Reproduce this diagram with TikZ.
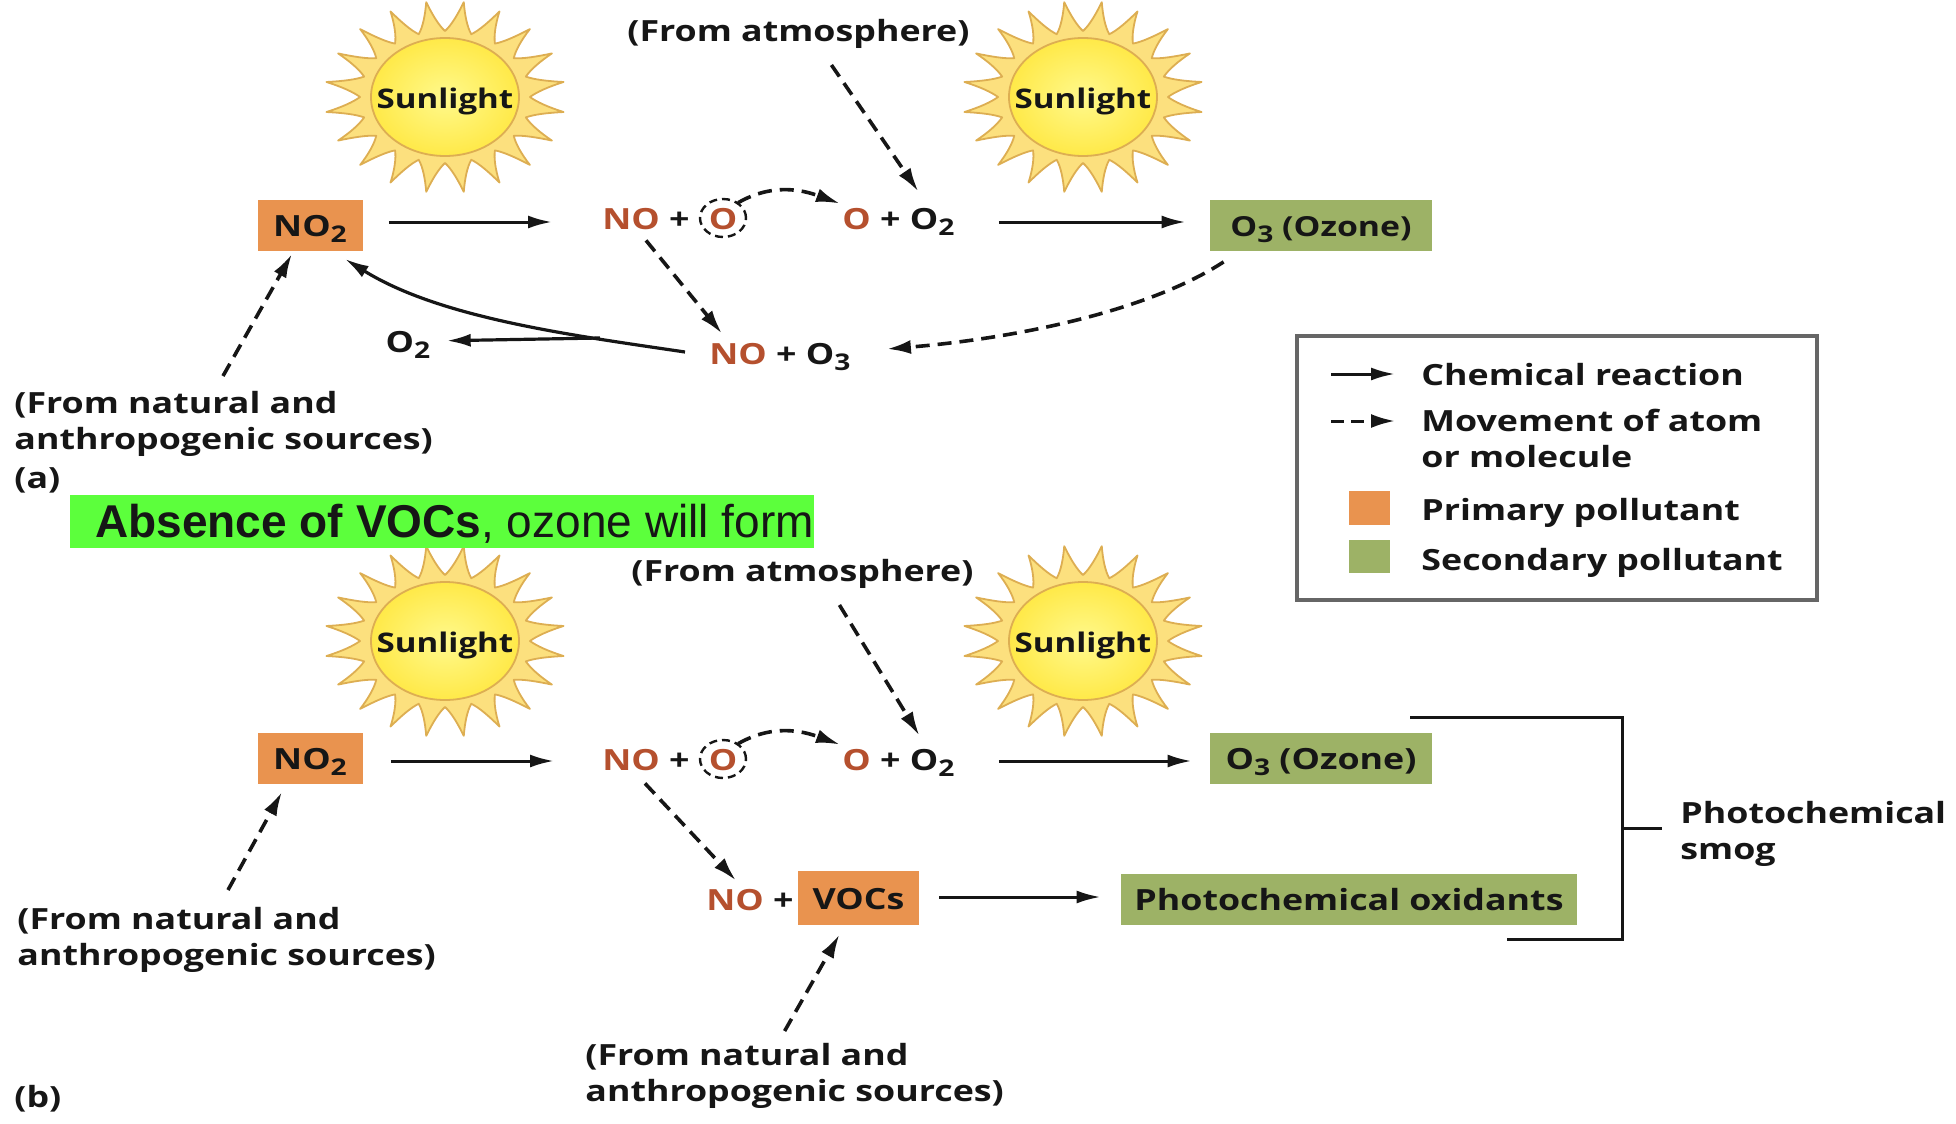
\documentclass[tikz,border=0pt]{standalone}
\usepackage{fontspec}
\setmainfont{Open Sans}[FakeStretch=1.225]
\newfontfamily\bannerfont{Liberation Sans}
\usetikzlibrary{shapes.geometric,arrows.meta,calc}
\definecolor{Ink}{HTML}{161616}
\definecolor{Rust}{HTML}{B5502E}
\definecolor{Primary}{HTML}{E9934F}
\definecolor{Secondary}{HTML}{9DB266}
\definecolor{Banner}{HTML}{5CFF3C}
\definecolor{RayFill}{HTML}{FCE07E}
\definecolor{RayEdge}{HTML}{DDAE52}
\definecolor{DiscIn}{HTML}{FFF98C}
\definecolor{DiscOut}{HTML}{FFE948}
\tikzset{
  label/.style={font=\bfseries\fontsize{14.6}{18}\selectfont,text=Ink,inner sep=0pt,text height=11pt,text depth=0pt},
  note/.style={font=\bfseries\fontsize{14.6}{18}\selectfont,text=Ink,inner sep=0pt,align=left,anchor=west},
  primary/.style={label,fill=Primary,minimum height=25.5pt},
  secondary/.style={label,fill=Secondary,minimum height=25.5pt},
  chem/.style={-{Latex[length=12pt,width=6.5pt]},line width=1.5pt,draw=Ink},
  move/.style={-{Latex[length=12pt,width=7pt]},line width=1.8pt,draw=Ink,dash pattern=on 7pt off 4pt},
}
\newcommand{\NOx}{\textcolor{Rust}{NO}}
\newcommand{\Ox}{\textcolor{Rust}{O}}
\newcommand{\subnum}[1]{\raisebox{-3.2pt}{\fontsize{11.5}{12}\selectfont #1}}
\begin{document}
\begin{tikzpicture}[x=0.5pt,y=-0.5pt]
  \useasboundingbox (0,0) rectangle (1956,1124);
  % suns
  \foreach \sunname/\sx/\sy in {sunA/445/97,sunB/1083/97,sunC/445/641,sunD/1083/641} {
    \begin{scope}[shift={(\sx,\sy)}]
      \draw[fill=RayFill,draw=RayEdge,line width=0.9pt,line join=round] (85,0)
        \foreach \k [evaluate=\k as \t using 18*\k+9, evaluate=\k as \v using 18*\k+18] in {0,...,19} {
          .. controls ({92*cos(\t-5)},{72*sin(\t-5)}) and ({104*cos(\t-2)},{83*sin(\t-2)}) .. ({120*cos(\t)},{96*sin(\t)})
          .. controls ({104*cos(\t+2)},{83*sin(\t+2)}) and ({92*cos(\t+5)},{72*sin(\t+5)}) .. ({85*cos(\v)},{66*sin(\v)})
        } -- cycle;
      \draw[draw=RayEdge,line width=0.9pt,inner color=DiscIn,outer color=DiscOut] (0,0) ellipse (74 and 59);
    \end{scope}
    \node[label,font=\bfseries\fontsize{13.5}{16}\selectfont] (\sunname) at (\sx,\sy) {Sunlight};
  }
  % part (a)
  \node[note] (atmA) at (627,34) {(From atmosphere)};
  \node[primary,minimum width=52.5pt] (no2A) at (310,225) {NO\subnum{2}};
  \node[label,anchor=west] (noA) at (602,218) {\NOx{} +};
  \node[label,ellipse,draw=Ink,line width=1.2pt,dash pattern=on 4pt off 2.5pt,minimum width=23pt,minimum height=19pt,text=Rust] (atomA) at (723,218) {O};
  \node[label,anchor=west] (oA) at (842,218) {\Ox{} + O\subnum{2}};
  \node[secondary,minimum width=111pt,font=\bfseries\fontsize{13.8}{18}\selectfont] (o3A) at (1321,225) {O\subnum{3} (Ozone)};
  \node[label,anchor=west] (noO3) at (709,353) {\NOx{} + O\subnum{3}};
  \node[label] (o2A) at (408,341) {O\subnum{2}};
  \node[note] (srcA) at (14,424) {(From natural and\\anthropogenic sources)};
  \node[note] (tagA) at (14,480) {(a)};
  \coordinate (forkA) at (600,338);
  \draw[chem,shorten <=13pt,shorten >=25pt] ($(no2A.east)+(0,-3)$) -- ($(noA.west)+(0,4)$);
  \draw[chem,shorten >=12pt] ($(oA.east)+(44,4)$) -- ($(o3A.west)+(0,-3)$);
  \draw[move] ($(atomA.north east)+(-2,-1)$) to[out=30,in=160] ($(oA.north west)+(-2,-3)$);
  \draw[move] ($(atmA.south)+(33,16)$) -- ($(oA.north)+(20,-15)$);
  \draw[move] ($(noA.south west)+(44,11)$) -- ($(noO3.north west)+(13,-8)$);
  \draw[move] ($(o3A.south west)+(14,11)$) .. controls (1150,310) and (1020,338) .. ($(noO3.east)+(36,-4)$);
  \draw[chem,line width=1.6pt] ($(noO3.west)+(-24,-1)$) .. controls (570,335) and (440,318) .. ($(no2A.south east)+(-18,8)$);
  \draw[chem,line width=1.6pt,shorten >=8pt] (forkA) -- (o2A.east);
  \draw[move] ($(srcA.north west)+(209,-15)$) -- ($(no2A.south)+(-18,3)$);
  % banner
  \node[anchor=west,fill=Banner,inner sep=0pt,minimum width=371.5pt,minimum height=26.5pt,text height=17pt,text depth=1pt,font=\bannerfont\fontsize{23}{26}\selectfont,text=Ink] (banner) at (70,521.5) {\hspace*{12.5pt}\textbf{Absence of VOCs}, ozone will form};
  % legend
  \node[draw=black!60,line width=1.8pt,minimum width=260pt,minimum height=132pt] (legend) at (1557,468) {};
  \node[note] (legChem) at (1421,375) {Chemical reaction};
  \node[note] (legMove) at (1421,438) {Movement of atom\\or molecule};
  \node[note] (legPrim) at (1421,513) {Primary pollutant};
  \node[note] (legSec) at (1421,563) {Secondary pollutant};
  \node[fill=Primary,minimum width=20.5pt,minimum height=17pt,inner sep=0pt] (swPrim) at (1369,508) {};
  \node[fill=Secondary,minimum width=20.5pt,minimum height=16.5pt,inner sep=0pt] (swSec) at (1369,556) {};
  \coordinate (legA) at (1331,374);
  \coordinate (legB) at (1331,421);
  \draw[chem,shorten >=13pt] (legA) -- (legA -| legChem.west);
  \draw[move,line width=1.5pt,dash pattern=on 6.5pt off 3.5pt,shorten >=13pt] (legB) -- (legB -| legMove.west);
  % part (b)
  \node[note] (atmB) at (631,574) {(From atmosphere)};
  \node[primary,minimum width=52.5pt] (no2B) at (310,758) {NO\subnum{2}};
  \node[label,anchor=west] (noB) at (602,759) {\NOx{} +};
  \node[label,ellipse,draw=Ink,line width=1.2pt,dash pattern=on 4pt off 2.5pt,minimum width=23pt,minimum height=19pt,text=Rust] (atomB) at (723,759) {O};
  \node[label,anchor=west] (oB) at (842,759) {\Ox{} + O\subnum{2}};
  \node[secondary,minimum width=111pt] (o3B) at (1321,758) {O\subnum{3} (Ozone)};
  \node[label,anchor=west] (noVoc) at (706,899) {\NOx{} +};
  \node[primary,minimum width=60.5pt,minimum height=27pt] (voc) at (858.5,898) {VOCs};
  \node[secondary,minimum width=228pt] (oxid) at (1349,899) {Photochemical oxidants};
  \node[note] (srcB) at (17,940) {(From natural and\\anthropogenic sources)};
  \node[note] (srcC) at (585,1076) {(From natural and\\anthropogenic sources)};
  \node[note] (tagB) at (14,1099) {(b)};
  \node[note] (smog) at (1680,834) {Photochemical\\smog};
  \draw[chem,shorten <=14pt,shorten >=24pt] ($(no2B.east)+(0,3)$) -- ($(noB.west)+(0,2)$);
  \draw[chem,shorten >=9pt] ($(oB.east)+(44,2)$) -- ($(o3B.west)+(0,3)$);
  \draw[chem,shorten <=10pt,shorten >=10pt] ($(voc.east)+(0,-1)$) -- ($(oxid.west)+(0,-2)$);
  \draw[move] ($(atomB.north east)+(-2,-1)$) to[out=30,in=160] ($(oB.north west)+(-2,-3)$);
  \draw[move] ($(atmB.south)+(37,16)$) -- ($(oB.north)+(21,-12)$);
  \draw[move] ($(noB.south west)+(43,13)$) -- ($(noVoc.north)+(-14,-7)$);
  \draw[move] ($(srcB.north west)+(211,-17)$) -- ($(no2B.south)+(-28,8)$);
  \draw[move] ($(srcC.north)+(-10,-12)$) -- ($(voc.south)+(-19,9)$);
  % smog bracket
  \coordinate (brTop) at (1410,717);
  \coordinate (brBot) at (1507,939);
  \coordinate (brMid) at (1622,828);
  \draw[line width=1.5pt,draw=Ink] (brTop) -| (brBot -| brMid) -- (brBot);
  \draw[line width=1.5pt,draw=Ink,shorten >=9pt] (brMid) -- (brMid -| smog.west);
\end{tikzpicture}
\end{document}
